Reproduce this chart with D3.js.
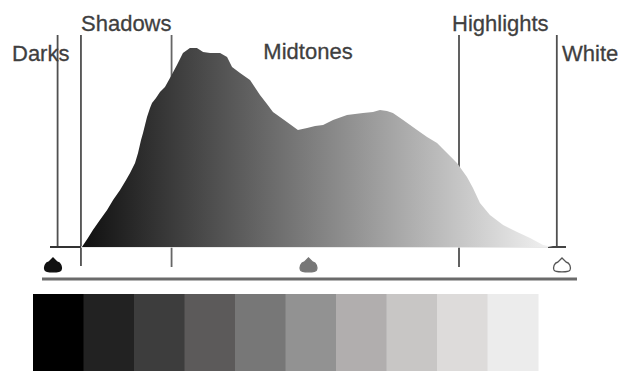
<!DOCTYPE html>
<html><head><meta charset="utf-8">
<script src="https://cdn.jsdelivr.net/npm/d3@7"></script>
<style>html,body{margin:0;padding:0;background:#fff;}svg{display:block;}</style>
</head><body>
<svg id="chart" width="619" height="372"></svg>
<script>
// ---- data ----
const levels = [14.5,17.5,20.0,23.5,27.1,30.1,33.6,36.6,38.6,41.1,42.6,44.1,45.1,47.1,48.6,49.6,51.6,53.6,56.1,58.6,62.1,65.1,68.6,72.1,75.2,78.7,83.7,87.2,89.7,93.7,98.7,103.7,107.2,110.2,113.7,117.2,122.7,127.3,131.3,135.3,140.3,147.3,151.3,155.3,160.3,163.8,167.3,170.3,175.4,178.9,182.4,187.4,192.4,197.4,202.4,207.4,210.4,213.9,218.9,225.5,232.5,239.0,245.5,250.5];
const counts = [0,4.5,8.5,13.5,18.5,23.5,28.5,33.5,37,42,47,53.5,57,65,69.5,72,74.5,77.5,80,84.5,91,97,99.5,99.5,97.5,97,97,95,90,87,83.5,76,71.5,67.5,65,62.5,58.5,59.5,60.5,61,63.5,66,66.5,67,67.5,68.5,68,67,63.5,61,58.5,55,52,47,42,35,29.5,22,16,11,7.5,4.5,1,0];
const zoneNames = ["Darks","Shadows","Midtones","Highlights","White"];
const zoneLines = [2.3, 14, 59.4, 203.4, 252.4];
const sliderLevels = [0, 128, 255];
const sliderFills = ["#111111", "#777777", "#ffffff"];
const swatchColors = ["#000000","#222222","#3d3d3d","#5c5a5a","#777777","#929292","#b1aeae","#c8c6c5","#dddbda","#ececec"];

// ---- layout ----
const svg = d3.select("#chart");
const x = d3.scaleLinear().domain([0,255]).range([53,562]);
const y = d3.scaleLinear().domain([0,100]).range([247,47]);
const pts = levels.map((l,i)=>({l, c:counts[i]}));

const defs = svg.append("defs");
const grad = defs.append("linearGradient").attr("id","hg")
  .attr("gradientUnits","userSpaceOnUse").attr("x1",60).attr("x2",560).attr("y1",0).attr("y2",0);
grad.append("stop").attr("offset","0%").attr("stop-color","#050505");
grad.append("stop").attr("offset","100%").attr("stop-color","#f6f6f6");

// vertical zone lines (behind histogram)
const lineEnds = [248, 266, 267, 267, 248];
svg.append("g").selectAll("line").data(zoneLines).join("line")
  .attr("x1",d=>x(d)).attr("x2",d=>x(d))
  .attr("y1",35).attr("y2",(d,i)=>lineEnds[i])
  .attr("stroke",(d,i)=> i===2 ? "#666" : "#505050")
  .attr("stroke-width",1.8);

// baseline
svg.append("line").attr("x1",50).attr("x2",x(14)).attr("y1",247).attr("y2",247)
  .attr("stroke","#333").attr("stroke-width",2);
svg.append("line").attr("x1",x(14)).attr("x2",548).attr("y1",247).attr("y2",247)
  .attr("stroke","#e2e2e2").attr("stroke-width",1.5);
svg.append("line").attr("x1",548).attr("x2",566).attr("y1",247).attr("y2",247)
  .attr("stroke","#444").attr("stroke-width",2);

// histogram area
const area = d3.area().x(d=>x(d.l)).y0(y(0)).y1(d=>y(d.c)).curve(d3.curveLinear);
svg.append("path").datum(pts).attr("d",area).attr("fill","url(#hg)");

// sliders
const sliderPath = "M0,0 L4,4 C8,5 9,9 8,12 C7,14.5 -7,14.5 -8,12 C-9,9 -8,5 -4,4 Z";
svg.append("g").selectAll("path").data(sliderLevels).join("path")
  .attr("d",sliderPath)
  .attr("transform",d=>`translate(${x(d)},258)`)
  .attr("fill",(d,i)=>sliderFills[i])
  .attr("stroke",(d,i)=> i===2 ? "#555" : sliderFills[i])
  .attr("stroke-width",1.3);

// lower rule
svg.append("line").attr("x1",42).attr("x2",577).attr("y1",279).attr("y2",279)
  .attr("stroke","#6b6b6b").attr("stroke-width",3);

// labels
const labelPos = [
  {x:12, y:61, anchor:"start"},
  {x:81, y:31, anchor:"start"},
  {x:308, y:59, anchor:"middle"},
  {x:452, y:31, anchor:"start"},
  {x:562, y:61, anchor:"start"}
];
svg.append("g").selectAll("text").data(zoneNames).join("text")
  .attr("x",(d,i)=>labelPos[i].x).attr("y",(d,i)=>labelPos[i].y)
  .attr("text-anchor",(d,i)=>labelPos[i].anchor)
  .attr("font-family","'Liberation Sans', Arial, sans-serif")
  .attr("font-size",22).attr("fill","#3f3f3f")
  .attr("stroke","#3f3f3f").attr("stroke-width",0.3)
  .text(d=>d);

// grey swatches
const sx = d3.scaleBand().domain(d3.range(swatchColors.length)).range([33,538]).padding(0);
svg.append("g").selectAll("rect").data(swatchColors).join("rect")
  .attr("x",(d,i)=>sx(i)).attr("y",294).attr("width",sx.bandwidth()+0.5).attr("height",77)
  .attr("fill",d=>d);
</script>
</body></html>
